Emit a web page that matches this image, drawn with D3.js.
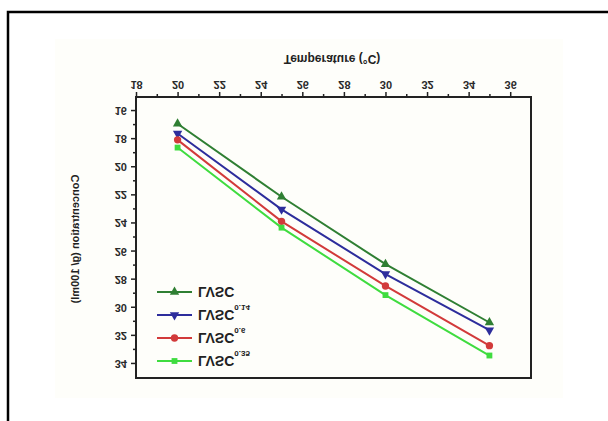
<!DOCTYPE html>
<html>
<head>
<meta charset="utf-8">
<script src="https://cdn.jsdelivr.net/npm/d3@7"></script>
<style>
  body { margin: 0; background: #fff; }
  svg { display: block; font-family: "Liberation Sans", Arial, sans-serif; }
</style>
</head>
<body>
<script>
// values (the picture is shown upside down)
var temps = [20, 25, 30, 35];
var lvsc = [16.9, 22.1, 26.9, 31.05];
var lvsc014 = [17.6, 23.0, 27.6, 31.6];
var lvsc06 = [18.05, 23.85, 28.45, 32.7];
var lvsc035 = [18.6, 24.3, 29.1, 33.4];

var seriesNames = ["LVSC", "LVSC", "LVSC", "LVSC"];
var seriesSubs = ["", "0.14", "0.6", "0.35"];
var seriesColors = ["#2f7f33", "#2d2d9c", "#d23a3a", "#3fdc3f"];
var seriesValues = [lvsc, lvsc014, lvsc06, lvsc035];

var xTicks = d3.range(18, 37, 2);
var xMinor = d3.range(19, 36, 2);
var yTicks = d3.range(16, 35, 2);
var yMinor = d3.range(17, 34, 2);

var W = 608, H = 421;

var svg = d3.select("body").append("svg")
    .attr("width", W).attr("height", H);

// faint panel + outer frame (screen coords)
svg.append("rect").attr("x", 55).attr("y", 39).attr("width", 508).attr("height", 359)
    .attr("fill", "#fefefa");
svg.append("path").attr("d", "M8,421 L8,12 L608,12")
    .attr("fill", "none").attr("stroke", "#000").attr("stroke-width", 2.5);

// the whole chart is mirrored top-to-bottom
var g = svg.append("g").attr("transform", "translate(0," + H + ") scale(1,-1)");

var x = d3.scaleLinear().domain([18, 37]).range([136, 531]);
var y = d3.scaleLinear().domain([15, 35]).range([324, 43]);

// axes
function styleAxis(sel) {
  sel.select(".domain").remove();
  sel.selectAll("line").attr("stroke", "#222").attr("stroke-width", 1.5);
  sel.selectAll("text").attr("fill", "#2a2a2a").attr("font-size", 11).attr("font-weight", "bold");
}
g.append("g").attr("transform", "translate(0,324)")
    .call(d3.axisBottom(x).tickValues(xTicks).tickSize(5).tickPadding(3).tickSizeOuter(0))
    .call(styleAxis);
g.append("g").attr("transform", "translate(0,324)")
    .call(d3.axisBottom(x).tickValues(xMinor).tickSize(3).tickFormat("").tickSizeOuter(0))
    .call(styleAxis);
g.append("g").attr("transform", "translate(136,0)")
    .call(d3.axisLeft(y).tickValues(yTicks).tickSize(5).tickPadding(4).tickSizeOuter(0))
    .call(styleAxis);
g.append("g").attr("transform", "translate(136,0)")
    .call(d3.axisLeft(y).tickValues(yMinor).tickSize(3).tickFormat("").tickSizeOuter(0))
    .call(styleAxis);

// plot frame
g.append("rect")
    .attr("x", x.range()[0]).attr("y", y.range()[1])
    .attr("width", x.range()[1] - x.range()[0])
    .attr("height", y.range()[0] - y.range()[1])
    .attr("fill", "none").attr("stroke", "#222").attr("stroke-width", 2);

// titles
g.append("text")
    .attr("x", 332).attr("y", 362).attr("dy", "0.35em")
    .attr("text-anchor", "middle")
    .attr("font-size", 12).attr("font-weight", "bold").attr("fill", "#222")
    .text("Temperature (°C)");
g.append("text")
    .attr("transform", "translate(75,182) rotate(-90)")
    .attr("dy", "0.35em")
    .attr("text-anchor", "middle")
    .attr("font-size", 11).attr("font-weight", "bold").attr("fill", "#222")
    .text("Concentration (g/ 100ml)");

// series
var symbols = [
  { type: d3.symbolTriangle, rot: 180, size: 38 },
  { type: d3.symbolTriangle, rot: 0, size: 38 },
  { type: d3.symbolCircle, rot: 0, size: 42 },
  { type: d3.symbolSquare, rot: 0, size: 34 }
];

var line = d3.line()
    .x(function(d) { return x(d[0]); })
    .y(function(d) { return y(d[1]); });

seriesValues.forEach(function(vals, i) {
  var pts = temps.map(function(t, j) { return [t, vals[j]]; });
  var sg = g.append("g");
  sg.append("path").attr("d", line(pts))
      .attr("fill", "none").attr("stroke", seriesColors[i]).attr("stroke-width", 2);
  sg.selectAll("path.pt").data(pts).enter().append("path")
      .attr("class", "pt")
      .attr("d", d3.symbol().type(symbols[i].type).size(symbols[i].size))
      .attr("transform", function(d) {
        return "translate(" + x(d[0]) + "," + y(d[1]) + ") rotate(" + symbols[i].rot + ")";
      })
      .attr("fill", seriesColors[i]);
});

// legend
var legendRows = [129, 106, 83, 60];
seriesNames.forEach(function(name, i) {
  var lg = g.append("g").attr("transform", "translate(157," + legendRows[i] + ")");
  lg.append("line").attr("x1", 0).attr("x2", 35).attr("y1", 0).attr("y2", 0)
      .attr("stroke", seriesColors[i]).attr("stroke-width", 2);
  lg.append("path")
      .attr("d", d3.symbol().type(symbols[i].type).size(symbols[i].size))
      .attr("transform", "translate(17.5,0) rotate(" + symbols[i].rot + ")")
      .attr("fill", seriesColors[i]);
  var t = lg.append("text").attr("x", 41).attr("y", 0).attr("dy", "0.36em")
      .attr("font-size", 14).attr("font-weight", "bold").attr("fill", "#222")
      .text(name);
  if (seriesSubs[i]) {
    t.append("tspan").attr("dy", 5).attr("font-size", 8).text(seriesSubs[i]);
  }
});
</script>
</body>
</html>
